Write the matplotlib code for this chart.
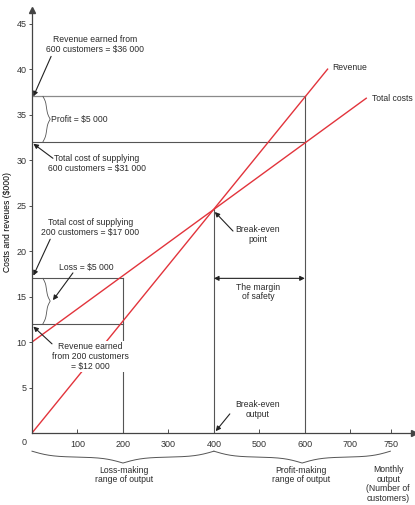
import numpy as np
import matplotlib.pyplot as plt

plt.rcParams['font.family'] = ['Liberation Sans', 'DejaVu Sans']
plt.rcParams['font.size'] = 6.2
plt.rcParams['text.color'] = '#2a2a2a'

# values ($000 against number of customers)
revenue_x = [0, 650]
revenue_y = [0, 40]
costs_x = [0, 735]
costs_y = [10, 36.8]

low_output = 200
low_costs = 17
low_revenue = 12
break_even_x = 400
break_even_y = 24.6
high_output = 600
high_revenue = 37
high_costs = 32

x_ticks = [100, 200, 300, 400, 500, 600, 700, 790]
x_tick_labels = ['100', '200', '300', '400', '500', '600', '700', '750']
y_ticks = [5, 10, 15, 20, 25, 30, 35, 40, 45]

RED = '#e2343c'
GREY = '#555555'
INK = '#222222'


def brace_shape(n=401, beta=22):
    half = np.linspace(0, 0.5, n // 2 + 1)
    yh = 1 / (1 + np.exp(-beta * (half - half[0]))) + 1 / (1 + np.exp(-beta * (half - half[-1])))
    y = np.concatenate([yh, yh[-2::-1]])
    y = (y - y.min()) / (y.max() - y.min())
    t = np.linspace(0, 1, len(y))
    return t, y


def hbrace(ax, x0, x1, y0, depth):
    t, s = brace_shape(beta=18)
    ax.plot(x0 + t * (x1 - x0), y0 - depth * s, color=GREY, lw=0.7, clip_on=False)


def vbrace(ax, y0, y1, x0, width):
    t, s = brace_shape(beta=14)
    ax.plot(x0 + width * s, y0 + t * (y1 - y0), color=GREY, lw=0.6, clip_on=False)


def arrow(ax, head, tail):
    ax.annotate('', xy=head, xytext=tail,
                arrowprops=dict(arrowstyle='-|>', color=INK, lw=0.8,
                                mutation_scale=7, shrinkA=0, shrinkB=0))


fig = plt.figure(figsize=(4.15, 5.05), dpi=100)
ax = fig.add_axes([32 / 415, 72 / 505, 382 / 415, 423 / 505])
ax.set_xlim(0, 840)
ax.set_ylim(0, 46.5)

# guide lines
ax.plot([0, high_output], [high_revenue, high_revenue], color='#8a8a8a', lw=0.9)
ax.plot([0, high_output], [high_costs, high_costs], color=GREY, lw=0.8)
ax.plot([high_output, high_output], [0, high_revenue], color=GREY, lw=0.8)
ax.plot([0, low_output], [low_costs, low_costs], color=GREY, lw=0.8)
ax.plot([0, low_output], [low_revenue, low_revenue], color=GREY, lw=0.8)
ax.plot([low_output, low_output], [0, low_costs], color=GREY, lw=0.8)
ax.plot([break_even_x, break_even_x], [0, break_even_y], color=GREY, lw=0.8)

# revenue and cost lines
ax.plot(revenue_x, revenue_y, color=RED, lw=1.0)
ax.plot(costs_x, costs_y, color=RED, lw=1.0)
ax.text(revenue_x[1] + 10, revenue_y[1] + 0.2, 'Revenue', ha='left', va='center')
ax.text(costs_x[1] + 12, costs_y[1], 'Total costs', ha='left', va='center')

# axes
for side in ['top', 'right']:
    ax.spines[side].set_visible(False)
for side in ['left', 'bottom']:
    ax.spines[side].set_color('#444444')
    ax.spines[side].set_linewidth(0.9)
ax.plot(1, 0, '>', color='#444444', ms=4, transform=ax.get_yaxis_transform(), clip_on=False)
ax.plot(0, 1, '^', color='#444444', ms=4, transform=ax.get_xaxis_transform(), clip_on=False)

ax.set_xticks(x_ticks)
ax.set_xticklabels(x_tick_labels)
ax.set_yticks(y_ticks)
ax.tick_params(axis='x', direction='in', length=3, width=0.6, pad=5, colors='#333333', labelsize=6.5)
ax.tick_params(axis='y', direction='out', length=2.5, width=0.6, pad=1.5, colors='#333333', labelsize=6.5)
ax.text(-12, -1.0, '0', ha='right', va='center', fontsize=6.5, color='#333333')
ax.set_ylabel('Costs and reveues ($000)', fontsize=6.2, labelpad=3)

# annotations at the top
ax.text(138, 42.7, 'Revenue earned from\n600 customers = $36 000', ha='center', va='center', linespacing=1.1)
arrow(ax, (3, high_revenue), (42, 41.4))
vbrace(ax, high_costs, high_revenue, 24, 16)
ax.text(42, (high_costs + high_revenue) / 2, 'Profit = $5 000', ha='left', va='center')
ax.text(143, 29.6, 'Total cost of supplying\n600 customers = $31 000', ha='center', va='center', linespacing=1.1)
arrow(ax, (3, high_costs - 0.2), (46, 30.2))

# annotations around 200 customers
ax.text(128, 22.6, 'Total cost of supplying\n200 customers = $17 000', ha='center', va='center', linespacing=1.1)
arrow(ax, (3, low_costs + 0.3), (40, 21.3))
vbrace(ax, low_revenue, low_costs, 24, 16)
ax.text(120, 18.2, 'Loss = $5 000', ha='center', va='center')
arrow(ax, (46, 14.6), (90, 17.6))
ax.text(128, 8.4, 'Revenue earned\nfrom 200 customers\n= $12 000', ha='center', va='center', linespacing=1.1,
        bbox=dict(boxstyle='square,pad=0.15', fc='white', ec='none'))
arrow(ax, (3, low_revenue - 0.3), (44, 9.8))

# break-even and margin of safety
ax.text(497, 21.8, 'Break-even\npoint', ha='center', va='center', linespacing=1.1)
arrow(ax, (break_even_x + 2, break_even_y - 0.3), (442, 22.2))
ax.annotate('', xy=(break_even_x, low_costs), xytext=(high_output, low_costs),
            arrowprops=dict(arrowstyle='<|-|>', color=INK, lw=0.8, mutation_scale=7, shrinkA=0, shrinkB=0))
ax.text(497, 15.5, 'The margin\nof safety', ha='center', va='center', linespacing=1.1)
ax.text(497, 2.6, 'Break-even\noutput', ha='center', va='center', linespacing=1.1)
arrow(ax, (break_even_x + 4, 0.2), (435, 2.1))

# ranges below the axis
hbrace(ax, 0, break_even_x, -2.0, 1.3)
hbrace(ax, break_even_x, 788, -2.0, 1.3)
ax.text(202, -3.6, 'Loss-making\nrange of output', ha='center', va='top', linespacing=1.1)
ax.text(592, -3.6, 'Profit-making\nrange of output', ha='center', va='top', linespacing=1.1)
ax.text(783, -3.5, 'Monthly\noutput\n(Number of\ncustomers)', ha='center', va='top', linespacing=1.1)

fig.savefig('out.png', dpi=100)
